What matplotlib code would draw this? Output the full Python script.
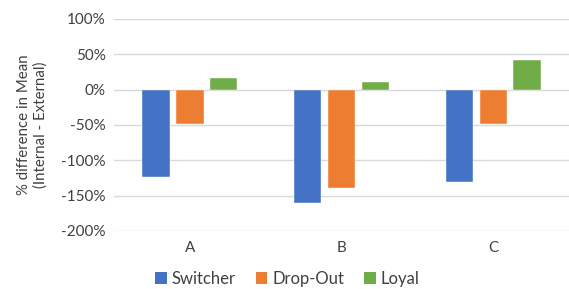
import numpy as np
import matplotlib.pyplot as plt
from matplotlib.patches import Patch
from matplotlib.ticker import FuncFormatter

plt.rcParams['font.family'] = ['Lato', 'DejaVu Sans']

categories = ["A", "B", "C"]
series = ["Switcher", "Drop-Out", "Loyal"]
switcher = [-124, -161, -131]
drop_out = [-48, -139, -48]
loyal = [17, 11, 42]
colors = ["#4472C4", "#ED7D31", "#70AD47"]

fig = plt.figure(figsize=(5.69, 2.89), dpi=100)
ax = fig.add_axes([0.2004, 0.2007, 0.7996, 0.7336])

x = np.arange(len(categories))
width = 0.18
step = 0.224
for i, (vals, c) in enumerate(zip([switcher, drop_out, loyal], colors)):
    ax.bar(x + (i - 1) * step, vals, width, color=c, zorder=3,
           edgecolor="white", linewidth=0.3)

ax.set_xlim(-0.5, 2.5)
ax.set_ylim(-200, 100)
ax.set_yticks(range(-200, 101, 50))
ax.yaxis.set_major_formatter(FuncFormatter(lambda v, p: f"{v:.0f}%"))
ax.set_xticks(x)
ax.set_xticklabels(categories)
ax.grid(axis="y", color="#D9D9D9", linewidth=1, zorder=0)
for s in ax.spines.values():
    s.set_visible(False)
ax.tick_params(length=0, labelsize=11, colors="#404040", pad=6)
ax.tick_params(axis="x", pad=7)

ax.set_ylabel("% difference in Mean\n(Internal - External)", fontsize=10.8,
              color="#404040", labelpad=10, linespacing=1.15)

handles = [Patch(facecolor=c, label=s) for s, c in zip(series, colors)]
fig.legend(handles=handles, loc="lower center", bbox_to_anchor=(0.505, -0.045),
           ncol=3, frameon=False, fontsize=12, handlelength=0.7,
           handleheight=0.7, handletextpad=0.3, columnspacing=1.2,
           labelcolor="#404040")

fig.savefig("out.png", dpi=100)
